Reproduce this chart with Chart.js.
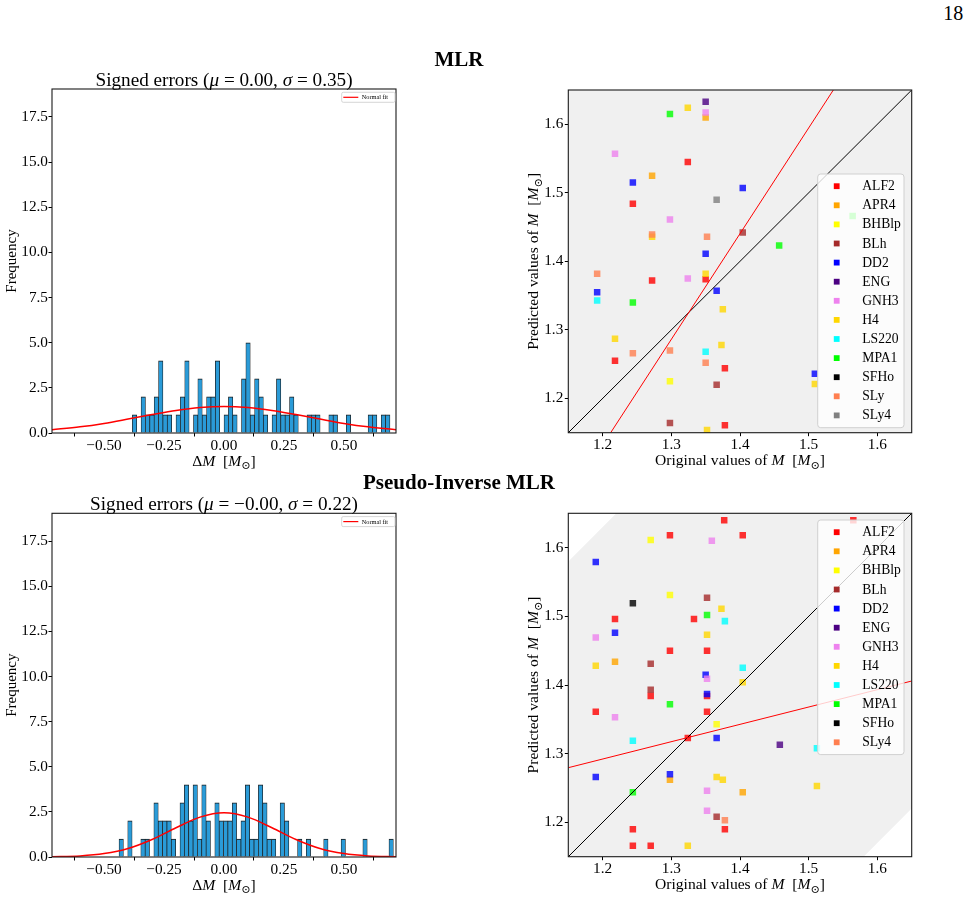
<!DOCTYPE html>
<html><head><meta charset="utf-8">
<script src="https://cdn.jsdelivr.net/npm/chart.js@4.4.0/dist/chart.umd.min.js"></script>
<style>
html,body{margin:0;padding:0;background:#fff;}
body{width:973px;height:900px;position:relative;overflow:hidden;font-family:"Liberation Serif","DejaVu Serif",serif;}
canvas{position:absolute;}
.t{position:absolute;color:#000;white-space:nowrap;line-height:1;z-index:5;}
</style></head><body>
<canvas id="c1" width="480" height="420" style="left:0;top:60px"></canvas>
<canvas id="c2" width="493" height="420" style="left:480px;top:60px"></canvas>
<canvas id="c3" width="480" height="415" style="left:0;top:485px"></canvas>
<canvas id="c4" width="493" height="415" style="left:480px;top:485px"></canvas>
<div class="t" style="right:9.7px;top:3.3px;font-size:20px;">18</div>
<div class="t" style="left:459px;top:48.5px;font-size:21px;font-weight:bold;transform:translateX(-50%);">MLR</div>
<div class="t" style="left:459px;top:471.7px;font-size:21px;font-weight:bold;transform:translateX(-50%);">Pseudo-Inverse MLR</div>
<script>
const FONT = '"Liberation Serif","DejaVu Serif",serif';

// ---------- tick definitions ----------
const histXTicks = [-0.5, -0.25, 0, 0.25, 0.5];
const histXTickLabels = ['\u22120.50', '\u22120.25', '0.00', '0.25', '0.50'];
const histYTicks = [0, 2.5, 5, 7.5, 10, 12.5, 15, 17.5];
const histYTickLabels = ['0.0', '2.5', '5.0', '7.5', '10.0', '12.5', '15.0', '17.5'];
const scatTicks = [1.2, 1.3, 1.4, 1.5, 1.6];
const scatTickLabels = ['1.2', '1.3', '1.4', '1.5', '1.6'];

// ---------- histogram data (MLR) ----------
const mlrBinStart = -0.382;
const mlrBinWidth = 0.0182;
const mlrCounts = [1,0,2,1,1,2,4,1,1,0, 1,2,4,0,1,3,1,2,2,4, 0,1,2,1,0,3,5,1,3,2, 1,0,1,3,1,1,2,1,0,0, 1,1,1,0,0,1,1,0,0,1, 0,0,0,0,1,1,0,1,1];
// ---------- histogram data (Pseudo-Inverse MLR) ----------
const pinvBinStart = -0.4375;
const pinvBinWidth = 0.01815;
const pinvCounts = [1,0,2,0,0,1,1,0,3,2, 2,2,1,0,3,4,2,4,1,4, 2,0,3,2,2,2,3,1,2,4, 1,1,4,3,1,1,0,3,2,0, 0,1,0,1,0,0,0,1,0,0, 0,1,0,0,0,0,1,0,0,0, 0,0,1];
// ---------- normal fit curves ----------
const fitX = [-0.72, -0.6, -0.5, -0.4, -0.3, -0.2, -0.1, 0, 0.1, 0.2, 0.3, 0.4, 0.5, 0.6, 0.72];
const mlrFitY = [0.18, 0.34, 0.53, 0.77, 1.02, 1.25, 1.41, 1.47, 1.41, 1.25, 1.02, 0.77, 0.53, 0.34, 0.18];
const pinvFitY = [0.01, 0.06, 0.19, 0.47, 0.97, 1.62, 2.21, 2.45, 2.21, 1.62, 0.97, 0.47, 0.19, 0.06, 0.01];

// ---------- scatter: EOS names & colors ----------
const eosMLR = ['ALF2','APR4','BHBlp','BLh','DD2','ENG','GNH3','H4','LS220','MPA1','SFHo','SLy','SLy4'];
const colMLR = ['#ff0000','#ffa500','#ffff00','#a52a2a','#0000ff','#4b0082','#ee82ee','#ffd700','#00ffff','#00ff00','#000000','#ff7f50','#808080'];
const eosPINV = ['ALF2','APR4','BHBlp','BLh','DD2','ENG','GNH3','H4','LS220','MPA1','SFHo','SLy4'];
const colPINV = ['#ff0000','#ffa500','#ffff00','#a52a2a','#0000ff','#4b0082','#ee82ee','#ffd700','#00ffff','#00ff00','#000000','#ff7f50'];

// MLR: [original, predicted]
const mlr_ALF2 = [[1.324,1.545],[1.244,1.484],[1.272,1.372],[1.350,1.374],[1.218,1.255],[1.378,1.244],[1.378,1.161]];
const mlr_APR4 = [[1.272,1.525],[1.350,1.610]];
const mlr_BHBlp = [[1.298,1.225]];
const mlr_BLh = [[1.404,1.442],[1.366,1.220],[1.298,1.164]];
const mlr_DD2 = [[1.244,1.515],[1.404,1.507],[1.350,1.411],[1.366,1.357],[1.192,1.355],[1.509,1.236]];
const mlr_ENG = [[1.350,1.633]];
const mlr_GNH3 = [[1.218,1.557],[1.298,1.461],[1.324,1.375],[1.350,1.617]];
const mlr_H4 = [[1.324,1.624],[1.350,1.382],[1.375,1.330],[1.218,1.287],[1.373,1.278],[1.352,1.154],[1.509,1.221],[1.272,1.436]];
const mlr_LS220 = [[1.192,1.343],[1.350,1.268]];
const mlr_MPA1 = [[1.298,1.615],[1.457,1.423],[1.244,1.340],[1.564,1.466]];
const mlr_SFHo = [];
const mlr_SLy = [[1.272,1.439],[1.352,1.436],[1.192,1.382],[1.244,1.266],[1.298,1.270],[1.350,1.252]];
const mlr_SLy4 = [[1.366,1.490]];
const mlrPoints = [mlr_ALF2,mlr_APR4,mlr_BHBlp,mlr_BLh,mlr_DD2,mlr_ENG,mlr_GNH3,mlr_H4,mlr_LS220,mlr_MPA1,mlr_SFHo,mlr_SLy,mlr_SLy4];

// Pseudo-inverse MLR
const pinv_ALF2 = [[1.377,1.640],[1.298,1.618],[1.404,1.618],[1.565,1.640],[1.218,1.496],[1.333,1.496],[1.298,1.450],[1.352,1.450],[1.270,1.384],[1.352,1.384],[1.190,1.361],[1.352,1.361],[1.324,1.323],[1.244,1.190],[1.378,1.190],[1.244,1.166],[1.270,1.166]];
const pinv_APR4 = [[1.218,1.434],[1.298,1.262],[1.404,1.244]];
const pinv_BHBlp = [[1.270,1.611],[1.298,1.531],[1.366,1.343]];
const pinv_BLh = [[1.352,1.527],[1.270,1.431],[1.270,1.393],[1.366,1.208]];
const pinv_DD2 = [[1.190,1.579],[1.218,1.476],[1.350,1.415],[1.352,1.387],[1.366,1.323],[1.190,1.266],[1.298,1.270]];
const pinv_ENG = [[1.458,1.313]];
const pinv_GNH3 = [[1.359,1.610],[1.190,1.469],[1.352,1.409],[1.218,1.353],[1.352,1.246],[1.352,1.217]];
const pinv_H4 = [[1.373,1.511],[1.352,1.473],[1.190,1.428],[1.404,1.404],[1.366,1.266],[1.375,1.262],[1.512,1.253],[1.324,1.166]];
const pinv_LS220 = [[1.378,1.493],[1.404,1.425],[1.244,1.319],[1.512,1.308]];
const pinv_MPA1 = [[1.352,1.502],[1.298,1.372],[1.244,1.244]];
const pinv_SFHo = [[1.244,1.519]];
const pinv_SLy4 = [[1.378,1.203]];
const pinvPoints = [pinv_ALF2,pinv_APR4,pinv_BHBlp,pinv_BLh,pinv_DD2,pinv_ENG,pinv_GNH3,pinv_H4,pinv_LS220,pinv_MPA1,pinv_SFHo,pinv_SLy4];

// lines: identity and fitted regression lines (endpoints)
const scatRange = [1.15, 1.65];
const mlrFitLine = [[1.2117,1.15],[1.5359,1.65]];
const pinvFitLine = [[1.15,1.2796],[1.65,1.4058]];
const mlrBand = 0.70;
const pinvBand = 0.43;

// ---------- helpers ----------
function drawRich(ctx, segs, x, y, size, align, rot) {
  ctx.save();
  ctx.translate(x, y);
  if (rot) ctx.rotate(-Math.PI / 2);
  const parts = segs.map(s => {
    const fs = s.sub ? size * 0.72 : size;
    const font = (s.it ? 'italic ' : '') + fs + 'px ' + FONT;
    ctx.font = font;
    return { t: s.t, font, w: ctx.measureText(s.t).width, dy: s.sub ? size * 0.22 : 0 };
  });
  const total = parts.reduce((a, p) => a + p.w, 0);
  let cx = align === 'center' ? -total / 2 : (align === 'right' ? -total : 0);
  ctx.textBaseline = 'alphabetic';
  ctx.textAlign = 'left';
  ctx.fillStyle = '#000';
  for (const p of parts) { ctx.font = p.font; ctx.fillText(p.t, cx, p.dy); cx += p.w; }
  ctx.restore();
}
function frame(ctx, a) {
  ctx.save();
  ctx.strokeStyle = '#1a1a1a';
  ctx.lineWidth = 1.1;
  ctx.strokeRect(a.left, a.top, a.right - a.left, a.bottom - a.top);
  ctx.restore();
}
function rrect(ctx, x, y, w, h, r) {
  ctx.beginPath();
  ctx.moveTo(x + r, y); ctx.lineTo(x + w - r, y); ctx.quadraticCurveTo(x + w, y, x + w, y + r);
  ctx.lineTo(x + w, y + h - r); ctx.quadraticCurveTo(x + w, y + h, x + w - r, y + h);
  ctx.lineTo(x + r, y + h); ctx.quadraticCurveTo(x, y + h, x, y + h - r);
  ctx.lineTo(x, y + r); ctx.quadraticCurveTo(x, y, x + r, y); ctx.closePath();
}
function rgba(hex, a) {
  const n = parseInt(hex.slice(1), 16);
  return 'rgba(' + ((n >> 16) & 255) + ',' + ((n >> 8) & 255) + ',' + (n & 255) + ',' + a + ')';
}
function findLabel(ticks, labels, v) {
  for (let i = 0; i < ticks.length; i++) if (Math.abs(ticks[i] - v) < 1e-9) return labels[i];
  return '';
}
function axis(pos, min, max, ticks, labels, g, pad) {
  return {
    type: 'linear', position: pos, min, max, offset: false,
    afterBuildTicks: s => { s.ticks = ticks.map(v => ({ value: v })); },
    afterFit: s => { if (pos === 'bottom') s.height = g.h - g.b; else s.width = g.l; },
    ticks: { autoSkip: false, maxRotation: 0, padding: pad, color: '#000',
      font: { family: FONT, size: 15.3 }, callback: v => findLabel(ticks, labels, v) },
    grid: { display: true, drawOnChartArea: false, drawTicks: true, tickLength: 3.5, color: '#000', lineWidth: 1 },
    border: { display: false }
  };
}
const MSUN = [{ t: '  [' }, { t: 'M', it: true }, { t: '\u2299', sub: true }, { t: ']' }];

function histChart(id, g, binStart, binWidth, counts, fitY, titleSegs) {
  const bars = [];
  counts.forEach((c, i) => { if (c > 0) bars.push({ x: binStart + (i + 0.5) * binWidth, y: c }); });
  const curve = fitX.map((x, i) => ({ x, y: fitY[i] }));
  new Chart(document.getElementById(id), {
    type: 'bar',
    data: { datasets: [
      { type: 'line', data: curve, borderColor: '#ff0000', borderWidth: 1.5, pointRadius: 0,
        cubicInterpolationMode: 'monotone', fill: false, order: 0 },
      { type: 'bar', data: bars, backgroundColor: '#2a9bd8', borderColor: '#1a1a1a',
        borderWidth: { top: 1, left: 0.7, right: 0.7, bottom: 0 }, barPercentage: 1, categoryPercentage: 1, order: 1 }
    ] },
    options: {
      responsive: false, animation: false, devicePixelRatio: 1,
      layout: { padding: { left: 0, top: g.t, right: g.w - g.r, bottom: 0 } },
      plugins: { legend: { display: false }, tooltip: { enabled: false }, title: { display: false } },
      scales: {
        x: axis('bottom', -0.717, 0.717, histXTicks, histXTickLabels, g, 0),
        y: axis('left', 0, 19.05, histYTicks, histYTickLabels, g, 0.5)
      }
    },
    plugins: [{
      id: 'deco',
      afterDraw(chart) {
        const ctx = chart.ctx, a = chart.chartArea;
        frame(ctx, a);
        drawRich(ctx, titleSegs, (a.left + a.right) / 2, a.top - 3.5, 19.2, 'center', false);
        drawRich(ctx, [{ t: '\u0394' }, { t: 'M', it: true }].concat(MSUN), (a.left + a.right) / 2, a.bottom + 32.5, 15.6, 'center', false);
        drawRich(ctx, [{ t: 'Frequency' }], a.left - 36, (a.top + a.bottom) / 2, 15, 'center', true);
        // small "Normal fit" legend
        const bx = a.right - 54.3, by = a.top + 3.3, bw = 53.3, bh = 10;
        ctx.save();
        rrect(ctx, bx, by, bw, bh, 1.5);
        ctx.fillStyle = 'rgba(255,255,255,0.8)'; ctx.fill();
        ctx.strokeStyle = '#cccccc'; ctx.lineWidth = 0.8; ctx.stroke();
        ctx.strokeStyle = '#ff0000'; ctx.lineWidth = 1.2;
        ctx.beginPath(); ctx.moveTo(bx + 1.6, by + bh / 2); ctx.lineTo(bx + 16.6, by + bh / 2); ctx.stroke();
        ctx.fillStyle = '#000'; ctx.font = '6.3px ' + FONT; ctx.textBaseline = 'middle'; ctx.textAlign = 'left';
        ctx.fillText('Normal fit', bx + 20, by + bh / 2 + 0.3);
        ctx.restore();
      }
    }]
  });
}

function scatterChart(id, g, names, colors, pointsList, fitLine, band, legTop) {
  const lo = scatRange[0], hi = scatRange[1];
  const ds = [];
  ds.push({ type: 'line', data: [{ x: lo, y: lo - band }, { x: hi, y: hi - band }], borderWidth: 0,
    pointRadius: 0, fill: false, order: 1001 });
  ds.push({ type: 'line', data: [{ x: lo, y: lo + band }, { x: hi, y: hi + band }], borderWidth: 0,
    pointRadius: 0, fill: '-1', backgroundColor: '#f0f0f0', order: 1000 });
  names.forEach((nm, i) => {
    ds.push({ type: 'scatter', label: nm, data: pointsList[i].map(p => ({ x: p[0], y: p[1] })),
      backgroundColor: rgba(colors[i], 0.8), borderWidth: 0, pointStyle: 'rect', pointRadius: 4.6, order: 100 - i });
  });
  ds.push({ type: 'line', data: [{ x: lo, y: lo }, { x: hi, y: hi }], borderColor: '#000', borderWidth: 1,
    pointRadius: 0, fill: false, order: 1 });
  ds.push({ type: 'line', data: fitLine.map(p => ({ x: p[0], y: p[1] })), borderColor: '#ff0000', borderWidth: 1,
    pointRadius: 0, fill: false, order: 0 });
  new Chart(document.getElementById(id), {
    type: 'scatter',
    data: { datasets: ds },
    options: {
      responsive: false, animation: false, devicePixelRatio: 1,
      layout: { padding: { left: 0, top: g.t, right: g.w - g.r, bottom: 0 } },
      plugins: { legend: { display: false }, tooltip: { enabled: false }, title: { display: false } },
      scales: {
        x: axis('bottom', lo, hi, scatTicks, scatTickLabels, g, 0),
        y: axis('left', lo, hi, scatTicks, scatTickLabels, g, 1.5)
      }
    },
    plugins: [{
      id: 'deco2',
      afterDatasetsDraw(chart) {
        const ctx = chart.ctx, a = chart.chartArea;
        const bx = a.left + 249.4, bw = 86.3, by = a.top + legTop, sp = 19.1;
        const bh = (names.length - 1) * sp + 24.5;
        ctx.save();
        rrect(ctx, bx, by, bw, bh, 3);
        ctx.fillStyle = 'rgba(255,255,255,0.8)'; ctx.fill();
        ctx.strokeStyle = '#d0d0d0'; ctx.lineWidth = 1; ctx.stroke();
        ctx.font = '13.6px ' + FONT; ctx.textBaseline = 'middle'; ctx.textAlign = 'left';
        names.forEach((nm, i) => {
          const cy = by + 12.2 + i * sp;
          ctx.fillStyle = colors[i];
          ctx.fillRect(bx + 19 - 2.9, cy - 2.9, 5.8, 5.8);
          ctx.fillStyle = '#000';
          ctx.fillText(nm, bx + 44.6, cy + 0.5);
        });
        ctx.restore();
      },
      afterDraw(chart) {
        const ctx = chart.ctx, a = chart.chartArea;
        frame(ctx, a);
        drawRich(ctx, [{ t: 'Original values of ' }, { t: 'M', it: true }].concat(MSUN), (a.left + a.right) / 2, a.bottom + 32.5, 15.6, 'center', false);
        drawRich(ctx, [{ t: 'Predicted values of ' }, { t: 'M', it: true }].concat(MSUN), a.left - 30, (a.top + a.bottom) / 2, 15.6, 'center', true);
      }
    }]
  });
}

histChart('c1', { w: 480, h: 420, l: 52, t: 29, r: 396, b: 373 }, mlrBinStart, mlrBinWidth, mlrCounts, mlrFitY,
  [{ t: 'Signed errors (' }, { t: '\u03bc', it: true }, { t: ' = 0.00, ' }, { t: '\u03c3', it: true }, { t: ' = 0.35)' }]);
histChart('c3', { w: 480, h: 415, l: 52, t: 28.3, r: 396, b: 372 }, pinvBinStart, pinvBinWidth, pinvCounts, pinvFitY,
  [{ t: 'Signed errors (' }, { t: '\u03bc', it: true }, { t: ' = \u22120.00, ' }, { t: '\u03c3', it: true }, { t: ' = 0.22)' }]);
scatterChart('c2', { w: 493, h: 420, l: 88.3, t: 30, r: 431.7, b: 372.7 }, eosMLR, colMLR, mlrPoints, mlrFitLine, mlrBand, 84);
scatterChart('c4', { w: 493, h: 415, l: 88.3, t: 28.3, r: 431.7, b: 371.7 }, eosPINV, colPINV, pinvPoints, pinvFitLine, pinvBand, 6.7);
</script>
</body></html>
